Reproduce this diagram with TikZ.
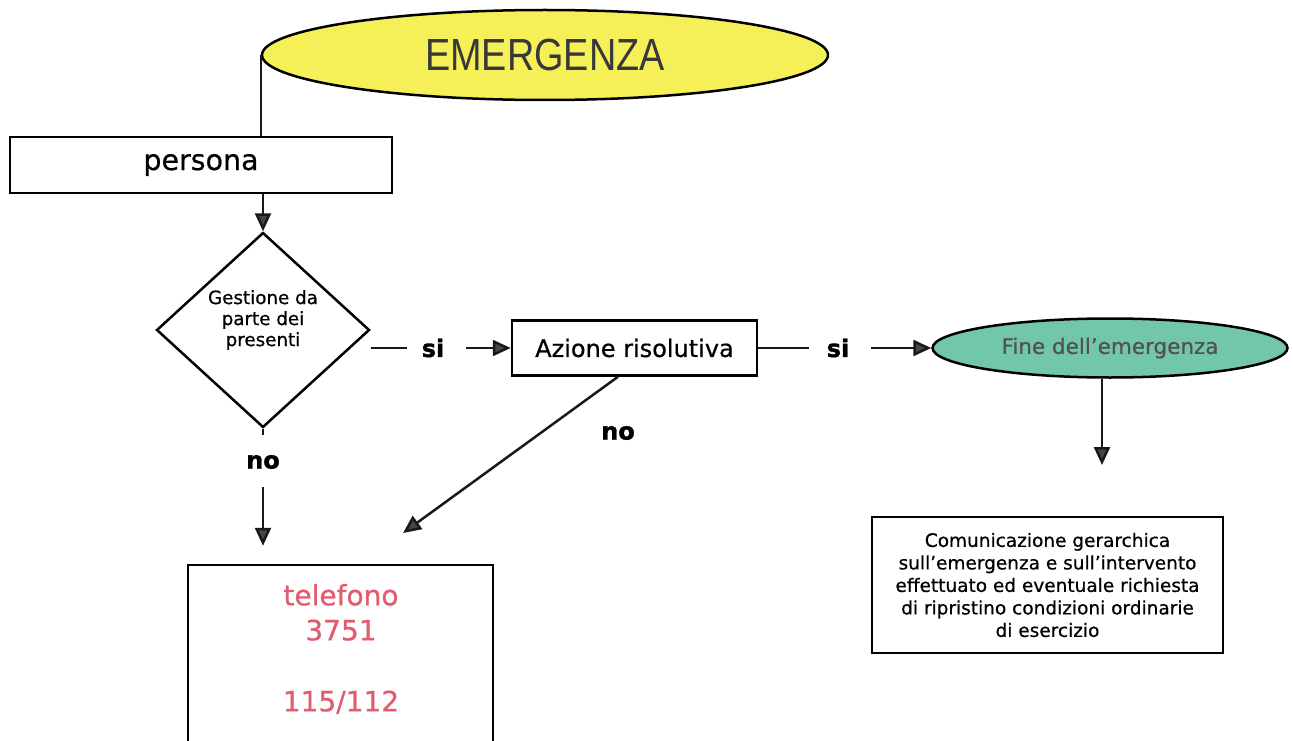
\documentclass[tikz,border=0pt]{standalone}
\usepackage{fontspec}
\setmainfont{DejaVu Sans}[FakeBold=0.6,BoldFeatures={FakeBold=1.5}]
\newfontfamily\narrowfont[FakeStretch=0.84]{Liberation Sans}
\usetikzlibrary{shapes.geometric,arrows.meta}

\definecolor{emeryellow}{RGB}{245,240,88}
\definecolor{fineteal}{RGB}{114,199,168}
\definecolor{telpink}{RGB}{226,92,112}
\definecolor{tipgray}{RGB}{70,70,70}

\begin{document}
\begin{tikzpicture}[x=1pt,y=-1pt,
    box/.style={draw,rectangle,line width=2.5pt,inner sep=0pt},
    lbl/.style={font=\bfseries\fontsize{24}{24}\selectfont,inner sep=0pt},
    conn/.style={line width=2.5pt,draw=black!90},
    arr/.style={conn,-{Triangle[length=18pt,width=16pt,fill=tipgray]}}]

    % page
    \useasboundingbox (0,0) rectangle (1293,741);
    \clip (0,0) rectangle (1293,741);
    \fill[white] (0,0) rectangle (1293,741);

    % start
    \node[draw,ellipse,line width=2.5pt,fill=emeryellow,minimum width=566pt,minimum height=90pt,inner sep=0pt,
          text=black!78,font=\narrowfont\fontsize{45}{45}\selectfont] (emer) at (545,55) {EMERGENZA};

    % persona
    \node[box,minimum width=382pt,minimum height=56pt,font=\fontsize{28.5}{28.5}\selectfont] (pers) at (201,165) {persona};

    % decision
    \node[draw,diamond,line width=2.5pt,minimum width=213pt,minimum height=195pt,inner sep=0pt] (gest) at (263,330) {};
    \node[align=center,font=\fontsize{18.3}{21}\selectfont] (gestT) at (263,320) {Gestione da\\parte dei\\presenti};

    % action
    \node[box,minimum width=245pt,minimum height=55pt,font=\fontsize{24}{24}\selectfont] (azi) at (634.5,348) {Azione risolutiva};

    % end of emergency
    \node[draw,ellipse,line width=2.5pt,fill=fineteal,minimum width=355pt,minimum height=59pt,inner sep=0pt,
          text=black!68,font=\fontsize{21.5}{21.5}\selectfont] (fine) at (1110,348) {Fine dell’emergenza};

    % report
    \node[box,minimum width=351pt,minimum height=136pt,align=center,font=\fontsize{18.5}{22.5}\selectfont] (comm) at (1047.5,585)
        {Comunicazione gerarchica\\sull’emergenza e sull’intervento\\effettuato ed eventuale richiesta\\di ripristino condizioni ordinarie\\di esercizio};

    % phone
    \node[box,minimum width=305pt,minimum height=215pt] (tel) at (340.5,672.5) {};
    \node[align=center,text=telpink,font=\fontsize{28}{35}\selectfont] (telT) at (341,649) {telefono\\3751\\[36pt]115/112};

    % EMERGENZA -> persona -> decision
    \draw[conn] (emer.west) -- (emer.west |- pers.north);
    \draw[arr] (gest.north |- pers.south) -- (gest.north);

    % si branches
    \node[lbl] (si1) at (433,348) {si};
    \draw[conn,shorten >=15pt] (gest.east |- si1) -- (si1.west);
    \draw[arr,shorten <=22pt] (si1.east) -- (azi.west);

    \node[lbl] (si2) at (838,348) {si};
    \draw[conn,shorten >=18pt] (azi.east) -- (si2.west);
    \draw[arr,shorten <=22pt] (si2.east) -- (fine.west);

    % fine -> report
    \coordinate (commIn) at (1102,465);
    \draw[arr] (fine.south -| commIn) -- (commIn);

    % no branches
    \node[lbl] (no1) at (263,462) {no};
    \draw[conn,shorten >=20pt] (gest.south) -- (no1.north);
    \draw[arr,shorten <=18pt,shorten >=18pt] (no1.south) -- (no1.south |- tel.north);

    \node[lbl] (no2) at (618,433) {no};
    \coordinate (telIn) at (403,533);
    \draw[arr] (azi.south -| no2) -- (telIn);
\end{tikzpicture}
\end{document}
